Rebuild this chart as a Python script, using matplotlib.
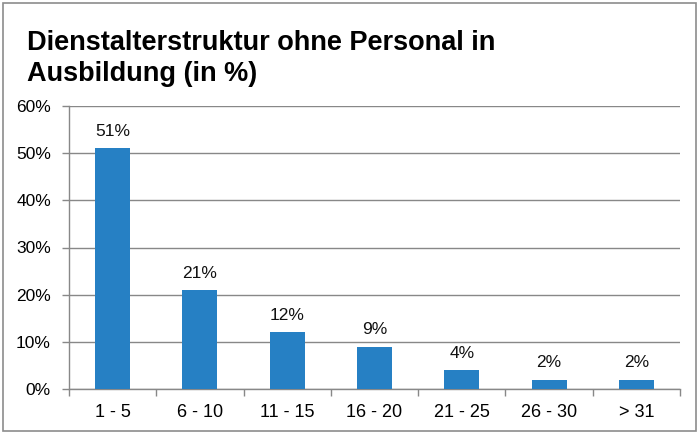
import matplotlib
matplotlib.use("Agg")
import matplotlib.pyplot as plt
from matplotlib.patches import Rectangle

categories = ["1 - 5", "6 - 10", "11 - 15", "16 - 20", "21 - 25", "26 - 30", "> 31"]
values = [51, 21, 12, 9, 4, 2, 2]
yticks = [0, 10, 20, 30, 40, 50, 60]
title = "Dienstalterstruktur ohne Personal in\nAusbildung (in %)"

plt.rcParams['font.family'] = ['Liberation Sans', 'DejaVu Sans']

fig = plt.figure(figsize=(6.99, 4.34), dpi=100)
fig.patches.append(Rectangle((0.004, 0.006), 0.992, 0.986, transform=fig.transFigure,
                             fill=False, edgecolor='#8c8c8c', linewidth=1.2))

ax = fig.add_axes([69/699, 1-389/434, (680-69)/699, (389-106)/434])
x = list(range(len(categories)))
ax.bar(x, values, width=0.4, color='#2680c4', zorder=3)
for xi, v in zip(x, values):
    ax.text(xi, v + 2.0, f"{v}%", ha='center', va='bottom', fontsize=12.5, color='#111111')

ax.set_xlim(-0.5, len(categories) - 0.5)
ax.set_ylim(0, 60)
ax.set_yticks(yticks)
ax.set_yticklabels([f"{t}%" for t in yticks], fontsize=12.5)
ax.set_xticks(x)
ax.set_xticklabels(categories, fontsize=13)
ax.tick_params(axis='x', length=0, pad=11)
ax.set_xticks([i + 0.5 for i in range(-1, len(categories))], minor=True)
ax.tick_params(axis='x', which='minor', length=5, color='#888888', width=1)
ax.tick_params(axis='y', length=5, color='#888888', width=1, pad=8)
ax.yaxis.grid(True, color='#888888', linewidth=1, zorder=0)
for s in ['top', 'right']:
    ax.spines[s].set_visible(False)
for s in ['left', 'bottom']:
    ax.spines[s].set_color('#888888')
    ax.spines[s].set_linewidth(1)

fig.text(27/699, 1-30/434, title, ha='left', va='top', fontsize=19.5, fontweight='bold',
         linespacing=1.25)

fig.savefig("out.png", dpi=100)
